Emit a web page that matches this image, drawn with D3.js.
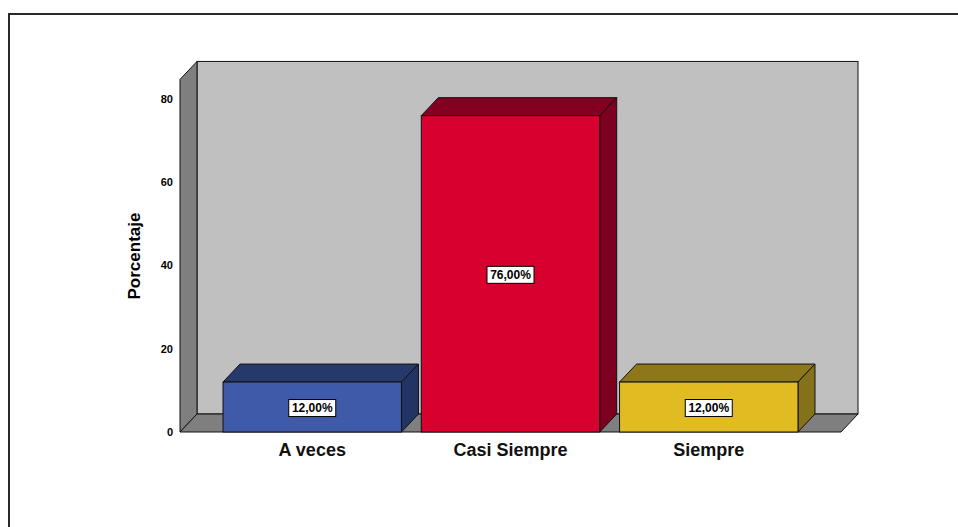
<!DOCTYPE html>
<html>
<head>
<meta charset="utf-8">
<script src="https://cdn.jsdelivr.net/npm/d3@7"></script>
<style>
  html, body { margin: 0; padding: 0; background: #fff; }
  svg { display: block; }
</style>
</head>
<body>
<svg id="chart" width="958" height="527"></svg>
<script>
// Response categories and their percentages
const categories = ["A veces", "Casi Siempre", "Siempre"];
const percentages = [12, 76, 12];
const valueLabels = ["12,00%", "76,00%", "12,00%"];
const yTicks = [0, 20, 40, 60, 80];
const frontColors = ["#3f5aa8", "#d7002f", "#e1bb22"];
const topColors = ["#26396b", "#840021", "#8d7819"];
const sideColors = ["#223463", "#7d0020", "#85711a"];

const svg = d3.select("#chart");

// Outer frame
svg.append("rect")
  .attr("x", 9).attr("y", 14)
  .attr("width", 1000).attr("height", 600)
  .attr("fill", "#fff")
  .attr("stroke", "#2a2a2a").attr("stroke-width", 2);

// Plot geometry (front plane) and 3D depth offset
const left = 180, right = 841, bottom = 432;
const dx = 17, dy = 18;
const axisMax = 84.7;

const y = d3.scaleLinear().domain([0, 80]).range([bottom, 99]);
const x = d3.scaleBand().domain(categories).range([left, right])
  .paddingInner(0.1).paddingOuter(0.217);

const yTop = y(axisMax);
const line = d3.line();

// Back wall
svg.append("rect")
  .attr("x", left + dx).attr("y", yTop - dy)
  .attr("width", right - left).attr("height", bottom - yTop)
  .attr("fill", "#c0c0c0").attr("stroke", "#111").attr("stroke-width", 1);

// Left wall
svg.append("path")
  .attr("d", line([[left, yTop], [left + dx, yTop - dy], [left + dx, bottom - dy], [left, bottom]]) + "Z")
  .attr("fill", "#7f7f7f").attr("stroke", "#111").attr("stroke-width", 1);

// Floor
svg.append("path")
  .attr("d", line([[left, bottom], [left + dx, bottom - dy], [right + dx, bottom - dy], [right, bottom]]) + "Z")
  .attr("fill", "#7f7f7f").attr("stroke", "#111").attr("stroke-width", 1);

// Y tick labels
svg.append("g").selectAll("text").data(yTicks).join("text")
  .attr("x", 173).attr("y", d => y(d))
  .attr("dy", "0.36em")
  .attr("text-anchor", "end")
  .attr("font-family", "Liberation Sans, Arial, sans-serif")
  .attr("font-weight", "bold").attr("font-size", 11)
  .attr("fill", "#000")
  .text(d => d);

// Y axis title
svg.append("text")
  .attr("transform", `translate(140, 256) rotate(-90)`)
  .attr("text-anchor", "middle")
  .attr("font-family", "Liberation Sans, Arial, sans-serif")
  .attr("font-weight", "bold").attr("font-size", 17)
  .attr("fill", "#000")
  .text("Porcentaje");

// 3D bars
const bars = svg.append("g").selectAll("g").data(categories).join("g");
bars.each(function (c, i) {
  const g = d3.select(this);
  const x0 = x(c), bw = x.bandwidth();
  const yv = y(percentages[i]), y0 = y(0);
  g.append("path")
    .attr("d", line([[x0, yv], [x0 + dx, yv - dy], [x0 + bw + dx, yv - dy], [x0 + bw, yv]]) + "Z")
    .attr("fill", topColors[i]).attr("stroke", "#111").attr("stroke-width", 1);
  g.append("path")
    .attr("d", line([[x0 + bw, yv], [x0 + bw + dx, yv - dy], [x0 + bw + dx, y0 - dy], [x0 + bw, y0]]) + "Z")
    .attr("fill", sideColors[i]).attr("stroke", "#111").attr("stroke-width", 1);
  g.append("rect")
    .attr("x", x0).attr("y", yv)
    .attr("width", bw).attr("height", y0 - yv)
    .attr("fill", frontColors[i]).attr("stroke", "#111").attr("stroke-width", 1);

  // Value label box
  const cx = x0 + bw / 2, cy = (yv + y0) / 2 + 1;
  g.append("rect")
    .attr("x", cx - 23.5).attr("y", cy - 8.5)
    .attr("width", 47).attr("height", 17)
    .attr("fill", "#fff").attr("stroke", "#000").attr("stroke-width", 1);
  g.append("text")
    .attr("x", cx).attr("y", cy).attr("dy", "0.36em")
    .attr("text-anchor", "middle")
    .attr("font-family", "Liberation Sans, Arial, sans-serif")
    .attr("font-weight", "bold").attr("font-size", 12)
    .attr("fill", "#000")
    .text(valueLabels[i]);
});

// Category labels
svg.append("g").selectAll("text").data(categories).join("text")
  .attr("x", d => x(d) + x.bandwidth() / 2)
  .attr("y", 456)
  .attr("text-anchor", "middle")
  .attr("font-family", "Liberation Sans, Arial, sans-serif")
  .attr("font-weight", "bold").attr("font-size", 18)
  .attr("fill", "#111")
  .text(d => d);
</script>
</body>
</html>
